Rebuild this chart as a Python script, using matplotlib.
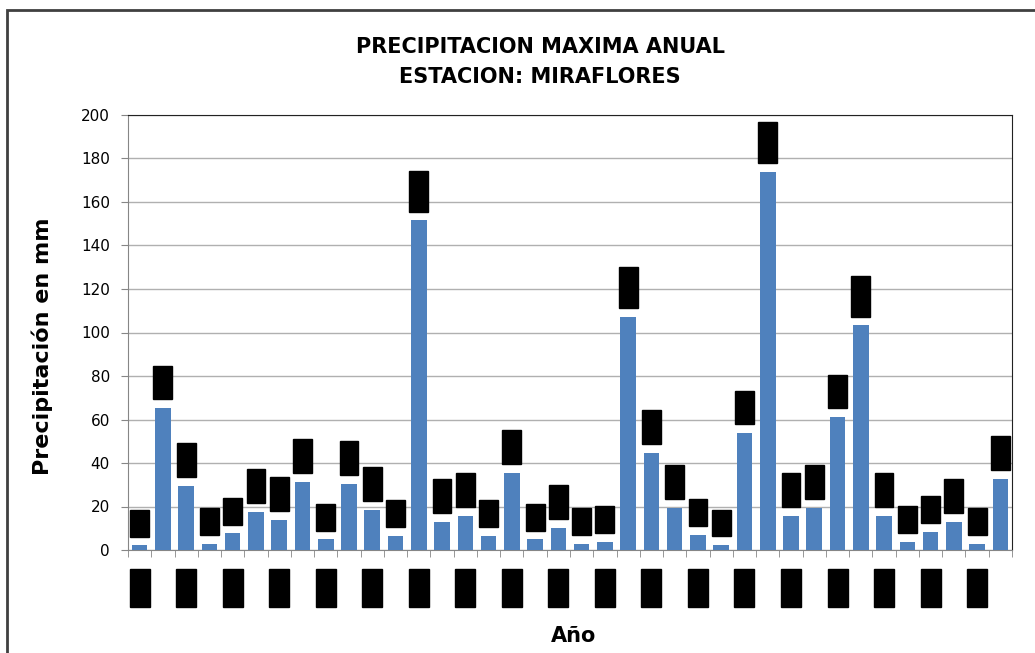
import matplotlib
matplotlib.use("Agg")
import matplotlib.pyplot as plt
from matplotlib.patches import Rectangle


# maximum annual precipitation (mm), one bar per year
YEARS = [str(y) for y in range(1970, 2008)]
PRECIP = [2.1, 65.3, 29.6, 2.9, 7.6, 17.6, 13.9, 31.4, 4.9, 30.4,
          18.6, 6.6, 151.5, 13.1, 15.8, 6.6, 35.6, 4.9, 10.3, 2.9,
          3.9, 107.2, 44.6, 19.4, 7.0, 2.2, 53.8, 174.0, 15.8, 19.4,
          61.1, 103.3, 15.8, 3.9, 8.4, 13.1, 2.9, 32.8]

TITLE = "PRECIPITACION MAXIMA ANUAL\nESTACION: MIRAFLORES"
YLABEL = "Precipitación en mm"
XLABEL = "Año"

BAR_COLOR = "#4f81bd"
GRID_COLOR = "#b0b0b0"
AXIS_COLOR = "#868686"

W, H = 1035, 653


def draw_chart(years, values):
    fig = plt.figure(figsize=(W / 100, H / 100), dpi=100)
    ax = fig.add_axes([128 / W, 1 - 550 / H, (1012 - 128) / W, (550 - 115) / H])

    # outer chart border (runs off the right and bottom edges)
    fig.patches.append(Rectangle((7 / W, -0.1), 1.2, 1 - 10 / H + 0.1,
                                 transform=fig.transFigure, fill=False,
                                 edgecolor="#404040", linewidth=2))

    x = list(range(len(values)))
    ax.bar(x, values, width=0.67, color=BAR_COLOR, zorder=3)

    # data labels, shown as black boxes
    for xi, v in zip(x, values):
        ax.annotate(f"{v:.1f}", (xi, v), xytext=(0, 9.5),
                    textcoords="offset points", ha="center", va="bottom",
                    rotation=90, fontsize=8, color="black", zorder=4,
                    bbox=dict(boxstyle="square,pad=0.4", fc="black", ec="black"))

    ax.set_xlim(-0.5, len(values) - 0.5)
    ax.set_ylim(0, 200)
    ax.set_yticks(range(0, 201, 20))
    ax.yaxis.grid(True, color=GRID_COLOR, linewidth=1, zorder=0)
    ax.set_axisbelow(True)

    # year labels every other bar, also black boxes
    ax.set_xticks(x[::2])
    ax.set_xticklabels(years[::2], rotation=90, fontsize=8, va="top")
    for lbl in ax.get_xticklabels():
        lbl.set_bbox(dict(boxstyle="square,pad=0.45", fc="black", ec="black"))
    ax.set_xticks([i - 0.5 for i in range(len(values) + 1)], minor=True)
    ax.tick_params(axis="x", which="major", length=0, pad=17)
    ax.tick_params(axis="x", which="minor", length=5, color=AXIS_COLOR)
    ax.tick_params(axis="y", length=5, color=AXIS_COLOR, labelsize=11, pad=8)

    ax.spines["left"].set_color(AXIS_COLOR)
    ax.spines["bottom"].set_color(AXIS_COLOR)
    ax.spines["top"].set_color("#222222")
    ax.spines["right"].set_color("#222222")

    fig.text(540 / W, 1 - 62 / H, TITLE, ha="center", va="center",
             fontsize=15, fontweight="bold", linespacing=1.6)
    fig.text(42 / W, 1 - 346 / H, YLABEL, ha="center", va="center",
             rotation=90, fontsize=16, fontweight="bold")
    fig.text(574 / W, 1 - 636 / H, XLABEL, ha="center", va="center",
             fontsize=15, fontweight="bold")

    fig.savefig("out.png", dpi=100)


if __name__ == "__main__":
    draw_chart(YEARS, PRECIP)
